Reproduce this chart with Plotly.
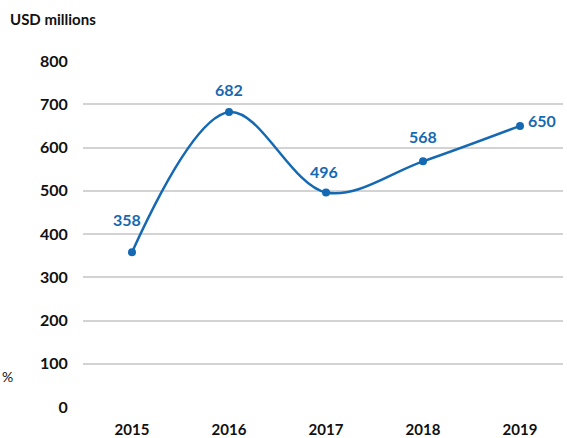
import plotly.graph_objects as go

years = ["2015", "2016", "2017", "2018", "2019"]
values = [358, 682, 496, 568, 650]
y_ticks = [0, 100, 200, 300, 400, 500, 600, 700, 800]

# label offsets in pixels (style only)
label_dx = [-5, 0, -2, 0, 22]
label_dy = [33, 23, 21, 25, 5]

BLUE = "#1569b2"
W, H = 567, 438
L, R, T, B = 83, 4, 61, 31
pw = W - L - R

fig = go.Figure()
fig.add_trace(go.Scatter(
    x=list(range(len(years))), y=values,
    mode="lines+markers",
    line=dict(color=BLUE, width=2.5, shape="spline", smoothing=1.0),
    marker=dict(color=BLUE, size=8),
    cliponaxis=False,
    hoverinfo="skip",
))

annotations = []
for i, v in enumerate(values):
    annotations.append(dict(
        x=i, y=v, xref="x", yref="y", text=str(v), showarrow=False,
        xshift=label_dx[i], yshift=label_dy[i],
        font=dict(family="Lato", size=16, color=BLUE, weight="bold"),
    ))

annotations += [
    dict(text="USD millions", xref="paper", yref="paper",
         x=(8 - L) / pw, y=1 + (T - 19) / (H - T - B),
         xanchor="left", yanchor="middle", showarrow=False,
         font=dict(family="Lato", size=15, color="#111111", weight="bold")),
    dict(text="%", xref="paper", yref="paper",
         x=(0 - L) / pw, y=(H - B - 376) / (H - T - B),
         xanchor="left", yanchor="middle", showarrow=False,
         font=dict(family="Lato", size=14, color="#111111")),
]

fig.update_layout(
    width=W, height=H,
    margin=dict(l=L, r=R, t=T, b=B),
    paper_bgcolor="white", plot_bgcolor="white",
    showlegend=False,
    font=dict(family="Lato", color="#111111"),
    xaxis=dict(
        range=[-0.505, 4.443], automargin=False,
        tickmode="array", tickvals=list(range(len(years))), ticktext=years,
        showgrid=False, zeroline=False, showline=False,
        ticks="outside", ticklen=9, tickcolor="rgba(0,0,0,0)",
        tickfont=dict(family="Lato", size=15, color="#111111", weight="bold"),
        fixedrange=True,
    ),
    yaxis=dict(
        range=[0, 800], automargin=False,
        tickmode="array", tickvals=y_ticks,
        showgrid=True, gridcolor="#d3d3d3", gridwidth=1.5,
        zeroline=False, showline=False,
        ticks="outside", ticklen=11, tickcolor="rgba(0,0,0,0)",
        tickfont=dict(family="Lato", size=16, color="#111111", weight="bold"),
        fixedrange=True,
    ),
    annotations=annotations,
)

fig.write_html("out.html")
